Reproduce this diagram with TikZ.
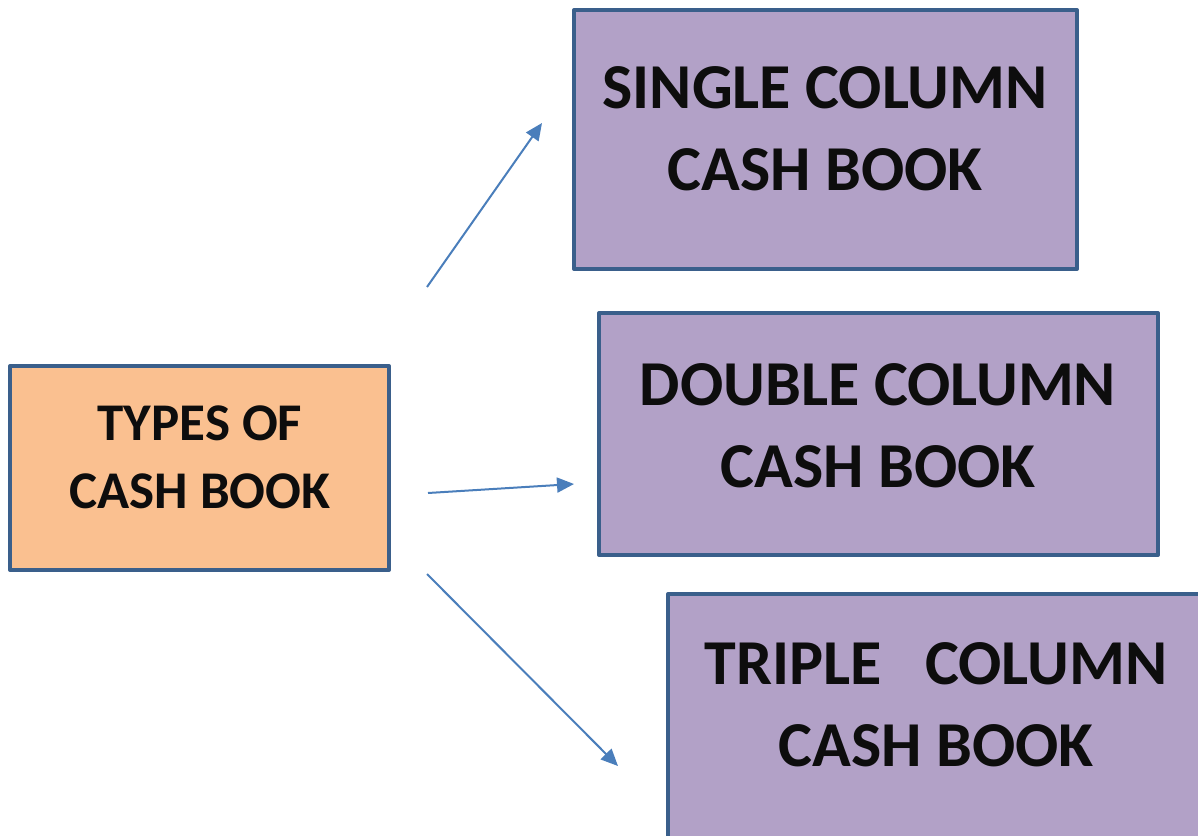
\documentclass[tikz,border=0pt]{standalone}
\usepackage{fontspec}
\setmainfont{Carlito}
\usetikzlibrary{arrows.meta}
\definecolor{boxline}{RGB}{58,95,139}
\definecolor{orangefill}{RGB}{250,192,144}
\definecolor{purplefill}{RGB}{178,161,199}
\definecolor{arrowblue}{RGB}{74,126,187}
\definecolor{inktext}{RGB}{13,13,13}
\tikzset{
  box/.style={draw=boxline, line width=4pt, line join=round},
  rootbox/.style={box, fill=orangefill},
  typebox/.style={box, fill=purplefill},
  % multi-line captions are placed by the baseline of their last line
  bigtext/.style={anchor=base, align=center, text=inktext, font=\bfseries\fontsize{64}{82}\selectfont, inner sep=0pt},
  roottext/.style={anchor=base, align=center, text=inktext, font=\bfseries\fontsize{53}{68}\selectfont, inner sep=0pt},
  link/.style={draw=arrowblue, line width=2pt, -{Triangle[length=17pt,width=15pt]}}
}
\begin{document}
\begin{tikzpicture}[x=1pt,y=-1pt]
\useasboundingbox (0,0) rectangle (1198,835);
\clip (0,0) rectangle (1198,835);

% boxes
\path[rootbox] (10,366) rectangle (389,570);
\path[typebox] (574,10) rectangle (1077,269);
\path[typebox] (599,313) rectangle (1158,555);
\path[typebox] (668,594) rectangle (1206,880);

% box captions
\node[roottext] (root) at (200,508) {TYPES OF\\CASH BOOK};
\node[bigtext] (single) at (825,190) {SINGLE COLUMN\\CASH BOOK};
\node[bigtext] (double) at (878,487) {DOUBLE COLUMN\\CASH BOOK};
\node[bigtext] (triple) at (936,766) {TRIPLE\ \ \ COLUMN\\CASH BOOK};

% connector ends
\coordinate (s1) at (427,287);
\coordinate (e1) at (542,123);
\coordinate (s2) at (428,493);
\coordinate (e2) at (574,484);
\coordinate (s3) at (427,574);
\coordinate (e3) at (618,766);

\draw[link] (s1) -- (e1);
\draw[link] (s2) -- (e2);
\draw[link] (s3) -- (e3);
\end{tikzpicture}
\end{document}
